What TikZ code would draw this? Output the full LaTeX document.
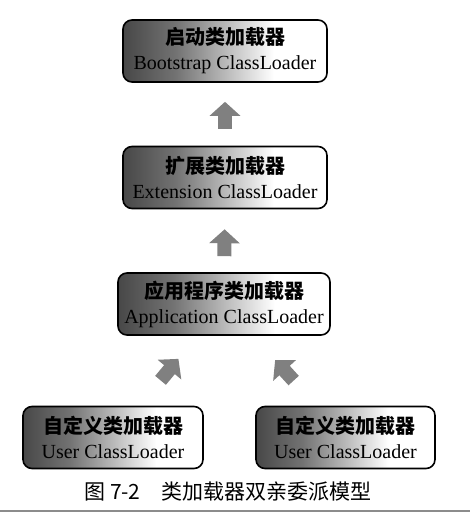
\documentclass[tikz,border=0pt]{standalone}
\usepackage{fontspec}
\setmainfont{Liberation Serif}
\newfontfamily\cjk{Noto Sans CJK SC}
\usetikzlibrary{arrows.meta}
% dark on the left, white on the right
\pgfdeclarehorizontalshading{loadershade}{100bp}{color(0bp)=(black!72); color(25bp)=(black!72); color(38bp)=(black!55); color(62bp)=(white); color(100bp)=(white)}
\tikzset{loader/.style={draw=black, line width=1.6pt, rounded corners=9pt, shading=loadershade, minimum height=62pt, align=center, inner sep=0pt, font=\fontsize{20}{25}\selectfont},
         parent/.style={draw=black!50, line width=14pt, -{Triangle[width=30pt,length=14pt]}}}

\begin{document}
\begin{tikzpicture}[x=1pt,y=-1pt]
  \useasboundingbox (0,0) rectangle (470,513);
  % loaders
  \node[loader, minimum width=204pt] (boot)  at (225,51)    {{\cjk\bfseries 启动类加载器}\\Bootstrap ClassLoader};
  \node[loader, minimum width=204pt] (ext)   at (225,177.5) {{\cjk\bfseries 扩展类加载器}\\Extension ClassLoader};
  \node[loader, minimum width=212pt] (app)   at (224,304)   {{\cjk\bfseries 应用程序类加载器}\\Application ClassLoader};
  \node[loader, minimum width=180pt] (user1) at (113,437.5) {{\cjk\bfseries 自定义类加载器}\\User ClassLoader};
  \node[loader, minimum width=179pt] (user2) at (345.5,437.5) {{\cjk\bfseries 自定义类加载器}\\User ClassLoader};
  % delegation
  \draw[parent, shorten <=17pt, shorten >=19pt] (ext) -- (boot);
  \draw[parent, shorten <=16pt, shorten >=20pt] (app) -- (ext);
  \draw[parent, shorten <=33pt, shorten >=30pt] (user1) -- (app);
  \draw[parent, shorten <=34pt, shorten >=33pt] (user2) -- (app);
  % caption
  \node[font=\cjk\fontsize{21}{21}\selectfont] (cap) at (228,492) {图 7-2\quad 类加载器双亲委派模型};
  \draw[black!45, line width=2pt] (0,511) -- (470,511);
\end{tikzpicture}
\end{document}
